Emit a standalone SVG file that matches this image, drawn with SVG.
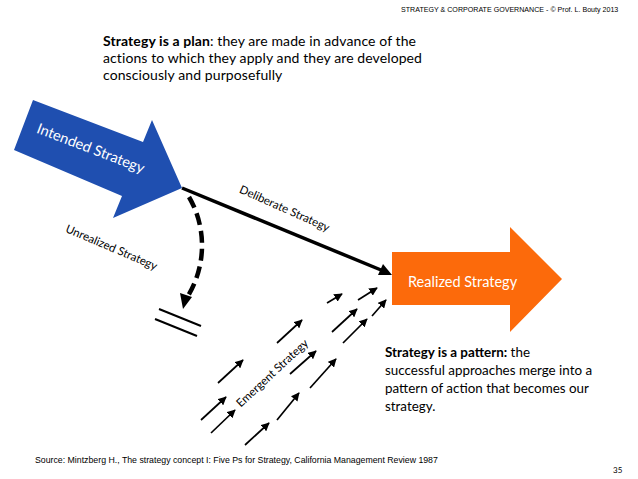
<svg xmlns="http://www.w3.org/2000/svg" width="638" height="479" viewBox="0 0 638 479">
<defs>
<style>
.hdr{font-family:"Liberation Sans",Arial,sans-serif;font-size:7.1px;fill:#000}
.src{font-family:"Liberation Sans",Arial,sans-serif;font-size:8.75px;fill:#000}
.num{font-family:Lato,"Open Sans",sans-serif;font-size:8px;fill:#000}
.body{font-family:Lato,"Open Sans",sans-serif;font-size:14px;letter-spacing:0.1px;fill:#000}
.body2{font-family:Lato,"Open Sans",sans-serif;font-size:13.4px;fill:#000}
.b{font-weight:bold}
.lbl{font-family:Lato,"Open Sans",sans-serif;font-size:11.5px;fill:#000}
.wlbl{font-family:Lato,"Open Sans",sans-serif;fill:#fff}
.small{stroke:#000;stroke-width:1.7;fill:none;marker-end:url(#sa)}
</style>
<marker id="sa" viewBox="0 0 10 10" refX="9" refY="5" markerWidth="5" markerHeight="5" orient="auto" markerUnits="strokeWidth">
<path d="M0,0 L10,5 L0,10 Z" fill="#000"/>
</marker>
</defs>
<rect width="638" height="479" fill="#fff"/>
<text class="hdr" x="401" y="12">STRATEGY &amp; CORPORATE GOVERNANCE - © Prof. L. Bouty 2013</text>
<g id="plan-text">
<text class="body" x="103" y="46"><tspan class="b">Strategy is a plan</tspan>: they are made in advance of the</text>
<text class="body" x="103" y="63">actions to which they apply and they are developed</text>
<text class="body" x="103" y="80">consciously and purposefully</text>
</g>
<g id="intended">
<polygon points="33,100 143,142 152,120 182,188 113,218 122,196 14,150" fill="#1F4FB0"/>
<text class="wlbl" font-size="14.6" transform="translate(89,153) rotate(21)" text-anchor="middle">Intended Strategy</text>
</g>
<g id="realized">
<polygon points="392,252 510,252 510,227 562,279 510,332 510,305 392,305" fill="#FC6A0B"/>
<text class="wlbl" font-size="14.5" x="408" y="287">Realized Strategy</text>
</g>
<g id="unrealized-end">
<line x1="159" y1="309" x2="201" y2="326" stroke="#000" stroke-width="2"/>
<line x1="155" y1="319" x2="197" y2="336" stroke="#000" stroke-width="2"/>
</g>
<g id="connectors">
<line x1="182" y1="188" x2="381" y2="270" stroke="#000" stroke-width="3.5"/>
<polygon points="392,275 378,275 383,264" fill="#000"/>
<path d="M189,197 C207,228 206,266 188,296" fill="none" stroke="#000" stroke-width="4.5" stroke-dasharray="12,6"/>
<polygon points="183,309 180,293 192,297" fill="#000"/>
<line class="small" x1="327" y1="303" x2="342" y2="294"/>
<line class="small" x1="358" y1="300" x2="377" y2="288"/>
<line class="small" x1="372" y1="316" x2="386" y2="300"/>
<line class="small" x1="332" y1="332" x2="357" y2="309"/>
<line class="small" x1="343" y1="343" x2="367" y2="319"/>
<line class="small" x1="277" y1="343" x2="302" y2="320"/>
<line class="small" x1="290" y1="374" x2="316" y2="351"/>
<line class="small" x1="310" y1="388" x2="336" y2="359"/>
<line class="small" x1="218" y1="383" x2="243" y2="360"/>
<line class="small" x1="201" y1="420" x2="226" y2="397"/>
<line class="small" x1="211" y1="433" x2="235" y2="410"/>
<line class="small" x1="245" y1="445" x2="269" y2="423"/>
<line class="small" x1="277" y1="420" x2="299" y2="393"/>
</g>
<g id="connector-labels">
<text class="lbl" transform="translate(283,212) rotate(24)" text-anchor="middle">Deliberate Strategy</text>
<text class="lbl" transform="translate(110,251) rotate(23)" text-anchor="middle">Unrealized Strategy</text>
<text class="lbl" transform="translate(275,376) rotate(-43)" text-anchor="middle">Emergent Strategy</text>
</g>
<g id="pattern-text">
<text class="body2" x="385" y="357"><tspan class="b">Strategy is a pattern:</tspan> the</text>
<text class="body2" x="385" y="375">successful approaches merge into a</text>
<text class="body2" x="385" y="393">pattern of action that becomes our</text>
<text class="body2" x="385" y="411">strategy.</text>
</g>
<text class="src" x="35" y="463">Source: Mintzberg H., The strategy concept I: Five Ps for Strategy, California Management Review 1987</text>
<text class="num" x="613" y="473">35</text>
</svg>
